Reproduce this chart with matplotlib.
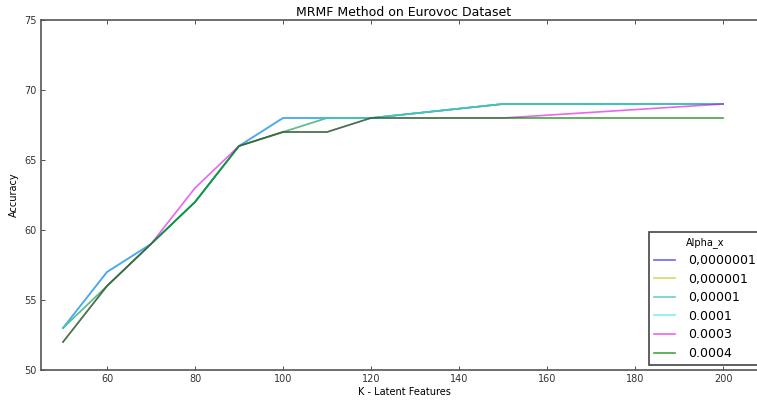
import matplotlib
matplotlib.use("Agg")
import matplotlib.pyplot as plt

# K values (latent features)
k_values = [50, 60, 70, 80, 90, 100, 110, 120, 150, 200]

alpha_labels = ["0,0000001", "0,000001", "0,00001", "0.0001", "0.0003", "0.0004"]

acc_a1 = [53, 57, 59, 62, 66, 68, 68, 68, 69, 69]
acc_a2 = [53, 56, 59, 62, 66, 67, 68, 68, 69, 69]
acc_a3 = [53, 56, 59, 62, 66, 67, 68, 68, 69, 69]
acc_a4 = [53, 57, 59, 62, 66, 68, 68, 68, 69, 69]
acc_a5 = [52, 56, 59, 63, 66, 67, 67, 68, 68, 69]
acc_a6 = [52, 56, 59, 62, 66, 67, 67, 68, 68, 68]

series = [acc_a1, acc_a2, acc_a3, acc_a4, acc_a5, acc_a6]
colors = ["#0000ff", "#bfbf00", "#00b0b0", "#30e0e0", "#dd00dd", "#008000"]
alphas = [0.6, 0.6, 0.6, 0.6, 0.6, 0.72]

plt.rcParams["xtick.direction"] = "in"
plt.rcParams["ytick.direction"] = "in"
plt.rcParams["xtick.top"] = True
plt.rcParams["ytick.right"] = True

fig = plt.figure(figsize=(7.57, 4.01), dpi=100)
ax = fig.add_axes([41 / 757, 31 / 401, 726 / 757, 350 / 401])

for vals, lab, col, a in zip(series, alpha_labels, colors, alphas):
    ax.plot(k_values, vals, color=col, alpha=a, linewidth=1.2, label=lab)

ax.set_xlim(45, 210)
ax.set_ylim(50, 75)
ax.set_xticks([60, 80, 100, 120, 140, 160, 180, 200])
ax.set_yticks([50, 55, 60, 65, 70, 75])
ax.tick_params(labelsize=7, length=3, width=0.6, colors="#333333", pad=3)
for sp in ax.spines.values():
    sp.set_color("#555555")
    sp.set_linewidth(1.2)

ax.set_title("MRMF Method on Eurovoc Dataset", fontsize=9, pad=3)
ax.set_xlabel("K - Latent Features", fontsize=7, labelpad=2)
ax.set_ylabel("Accuracy", fontsize=7, labelpad=4)

leg = ax.legend(title="Alpha_x", loc="lower left", bbox_to_anchor=(608 / 726, 5 / 350),
                fontsize=9, title_fontsize=7, fancybox=False, handlelength=1.7,
                handletextpad=1.0, labelspacing=0.45, borderaxespad=0, framealpha=1)
leg.get_frame().set_edgecolor("#444444")
leg.get_frame().set_linewidth(1.2)

fig.savefig("out.png", dpi=100)
